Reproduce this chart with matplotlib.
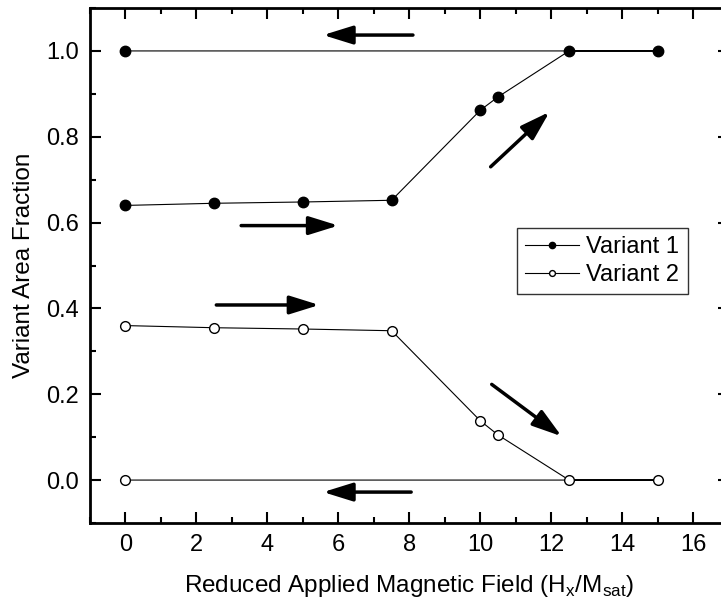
import matplotlib
matplotlib.use('Agg')
import matplotlib.pyplot as plt
from matplotlib.ticker import MultipleLocator

plt.rcParams['font.family'] = ['Liberation Sans', 'DejaVu Sans']
plt.rcParams['mathtext.fontset'] = 'custom'
plt.rcParams['mathtext.rm'] = 'Liberation Sans'

# field sweep up then back down to zero
field = [0, 2.5, 5, 7.5, 10, 10.5, 12.5, 15, 0]
variant1 = [0.64, 0.645, 0.648, 0.652, 0.862, 0.893, 1.0, 1.0, 1.0]
variant2 = [0.36, 0.355, 0.352, 0.348, 0.138, 0.105, 0.0, 0.0, 0.0]

# direction arrows: (tail x, tail y, head x, head y)
arrows = [
    (8.1, 1.037, 5.57, 1.037),
    (3.26, 0.593, 6.0, 0.593),
    (10.29, 0.730, 11.95, 0.858),
    (2.56, 0.408, 5.46, 0.408),
    (10.32, 0.223, 12.29, 0.102),
    (8.05, -0.028, 5.57, -0.028),
]

fig = plt.figure(figsize=(7.21, 6.03), dpi=100)
ax = fig.add_axes([0.1248, 0.1327, 0.886, 0.854])

ax.plot(field, variant1, '-o', color='k', lw=0.8, ms=7.5, mfc='k', mec='k', label='Variant 1')
ax.plot(field, variant2, '-o', color='k', lw=0.8, ms=7, mfc='white', mec='k', mew=1.0, label='Variant 2')

for x0, y0, x1, y1 in arrows:
    ax.annotate('', xy=(x1, y1), xytext=(x0, y0),
                arrowprops=dict(arrowstyle='-|>,head_length=0.9,head_width=0.28', lw=2.5,
                                color='k', mutation_scale=20, shrinkA=0, shrinkB=0))

ax.set_xlim(-1, 17)
ax.set_ylim(-0.1, 1.1)
ax.xaxis.set_minor_locator(MultipleLocator(1))
ax.yaxis.set_major_locator(MultipleLocator(0.2))
ax.yaxis.set_minor_locator(MultipleLocator(0.1))
ax.yaxis.set_major_formatter(plt.FuncFormatter(lambda v, p: '%.1f' % v))
ax.set_xticks([t for t in range(0, 17, 2)])
ax.tick_params(which='both', direction='in', top=True, right=True, labelsize=17, width=1.5)
ax.tick_params(which='major', length=8, pad=8)
ax.tick_params(which='minor', length=4)
for s in ax.spines.values():
    s.set_linewidth(2)

ax.set_xlabel(r'Reduced Applied Magnetic Field (H$_\mathrm{x}$/M$_\mathrm{sat}$)', fontsize=17.5, labelpad=12)
ax.set_ylabel('Variant Area Fraction', fontsize=17.5, labelpad=8)

leg = ax.legend(loc='upper left', bbox_to_anchor=(0.668, 0.573), borderaxespad=0,
                fancybox=False, edgecolor='k', fontsize=17, handlelength=2.3,
                markerscale=0.6, borderpad=0.35, labelspacing=0.25, handletextpad=0.3)
leg.get_frame().set_linewidth(1.0)

fig.savefig('out.png', dpi=100)
